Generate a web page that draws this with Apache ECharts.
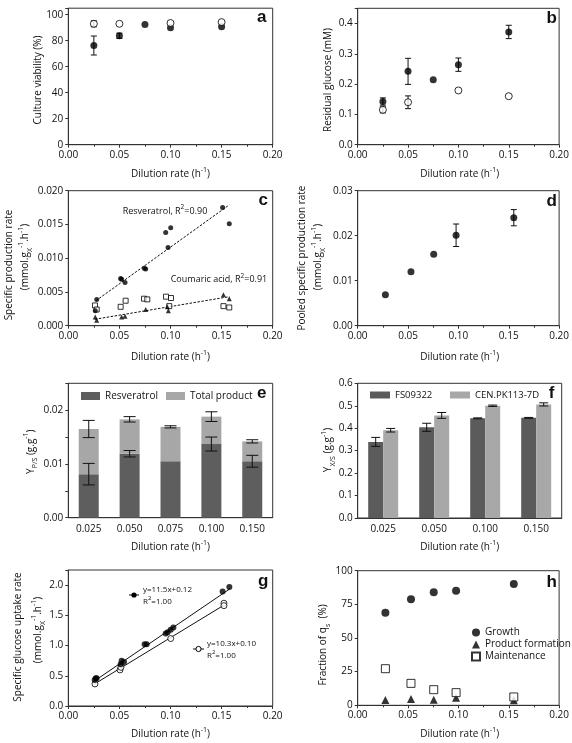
<!DOCTYPE html>
<html><head><meta charset="utf-8">
<script src="https://cdn.jsdelivr.net/npm/echarts@6/dist/echarts.min.js"></script>
<style>html,body{margin:0;padding:0;background:#fff}#c{width:572px;height:743px}</style>
</head><body><div id="c"></div>
<script>
// ---------- DATA ----------
// Panel a: culture viability (%)
const aFilledD = [0.025, 0.05, 0.075, 0.1, 0.15];
const aFilledV = [76.3, 83.8, 92.5, 90.0, 90.7];
const aFilledE = [7.3, 2.0, 0, 0, 0];
const aOpenD = [0.025, 0.05, 0.1, 0.15];
const aOpenV = [93.0, 93.0, 93.6, 94.3];
const aOpenE = [2.3, 0, 0, 0];
// Panel b: residual glucose (mM)
const bFilledD = [0.025, 0.05, 0.075, 0.1, 0.15];
const bFilledV = [0.1425, 0.242, 0.214, 0.264, 0.372];
const bFilledE = [0.012, 0.043, 0, 0.022, 0.022];
const bOpenD = [0.025, 0.05, 0.1, 0.15];
const bOpenV = [0.115, 0.140, 0.179, 0.160];
const bOpenE = [0.010, 0.021, 0, 0];
// Panel c: specific production rates
const cResvD = [0.0264, 0.0278, 0.0512, 0.0522, 0.0555, 0.0744, 0.0757, 0.0953, 0.0976, 0.1002, 0.151, 0.1575];
const cResvV = [0.0022, 0.0039, 0.0070, 0.0069, 0.0064, 0.0085, 0.0084, 0.0138, 0.0116, 0.0145, 0.0175, 0.0151];
const cCouD = [0.0264, 0.0278, 0.0522, 0.0555, 0.0757, 0.0969, 0.0979, 0.1518, 0.1575];
const cCouV = [0.0013, 0.0008, 0.0013, 0.0014, 0.0024, 0.0028, 0.0022, 0.0046, 0.0040];
const cSqD = [0.0261, 0.0278, 0.0512, 0.0561, 0.0741, 0.0773, 0.0956, 0.0988, 0.1005, 0.1518, 0.1575];
const cSqV = [0.0030, 0.0024, 0.0028, 0.0037, 0.0040, 0.0039, 0.0043, 0.0029, 0.0041, 0.0029, 0.0027];
const cResvFitD = [0.027, 0.1575];
const cResvFitV = [0.0037, 0.0179];
const cCouFitD = [0.026, 0.1575];
const cCouFitV = [0.00095, 0.0043];
// Panel d: pooled specific production rate
const dD = [0.0275, 0.0529, 0.0755, 0.0977, 0.155];
const dV = [0.0069, 0.0120, 0.0159, 0.0201, 0.0240];
const dE = [0, 0, 0, 0.0025, 0.0018];
// Panel e: product yields
const eCats = ['0.025', '0.050', '0.075', '0.100', '0.150'];
const eResv = [0.0081, 0.0119, 0.0105, 0.0137, 0.0105];
const eResvE = [0.0020, 0.0006, 0, 0.0013, 0.0011];
const eTotal = [0.0165, 0.0183, 0.0169, 0.0188, 0.0142];
const eTotalE = [0.0016, 0.0005, 0.0002, 0.0009, 0.0003];
// Panel f: biomass yields
const fCats = ['0.025', '0.050', '0.100', '0.150'];
const fFS = [0.339, 0.404, 0.444, 0.446];
const fFSE = [0.020, 0.018, 0.002, 0.002];
const fCEN = [0.391, 0.457, 0.500, 0.506];
const fCENE = [0.008, 0.013, 0.003, 0.007];
// Panel g: specific glucose uptake rate
const gFilledD = [0.0258, 0.0268, 0.0277, 0.0512, 0.0522, 0.0545, 0.0747, 0.0767, 0.0953, 0.0972, 0.1002, 0.1028, 0.151, 0.1576];
const gFilledV = [0.43, 0.459, 0.46, 0.69, 0.75, 0.73, 1.02, 1.02, 1.20, 1.22, 1.26, 1.30, 1.895, 1.967];
const gOpenD = [0.0261, 0.0506, 0.0515, 0.1002, 0.1523, 0.1523];
const gOpenV = [0.365, 0.597, 0.64, 1.116, 1.70, 1.66];
const gFilledFitD = [0.025, 0.158];
const gFilledFitV = [0.4075, 1.937];
const gOpenFitD = [0.025, 0.152];
const gOpenFitV = [0.3575, 1.666];
// Panel h: fraction of qs (%)
const hD = [0.0275, 0.0529, 0.0755, 0.0977, 0.155];
const hGrowth = [68.8, 78.7, 83.9, 85.1, 90.1];
const hProduct = [4.0, 4.7, 4.2, 5.7, 3.7];
const hMaint = [27.2, 16.3, 11.6, 9.4, 6.2];

// ---------- helpers ----------
const FONT = "'Open Sans', sans-serif";
const AX = '#333';
const TXT = '#111';
const zip = (xs, ys) => xs.map((x, i) => [x, ys[i]]);
const zip3 = (xs, ys, es) => xs.map((x, i) => [x, ys[i], es[i]]);

const grids = [
  {left: 68.3, top: 8.2, width: 204.4, height: 136.5},
  {left: 357.7, top: 8.3, width: 204, height: 136.4},
  {left: 68.3, top: 190.7, width: 204.4, height: 135},
  {left: 357.7, top: 190.7, width: 204, height: 135},
  {left: 68.3, top: 383.3, width: 204.4, height: 134.4},
  {left: 357.7, top: 383.3, width: 204, height: 134.7},
  {left: 68.3, top: 570, width: 204.4, height: 136},
  {left: 357.7, top: 570.7, width: 204, height: 134.6}
].map(g => Object.assign(g, {show: true, borderColor: AX, borderWidth: 1, containLabel: false}));

function baseAxis(i) {
  return {
    gridIndex: i,
    axisLine: {show: true, lineStyle: {color: AX, width: 1}},
    axisTick: {show: true, inside: false, length: 3, lineStyle: {color: AX}},
    splitLine: {show: false},
    axisLabel: {color: TXT, fontSize: 10, fontFamily: FONT, margin: 5}
  };
}
function dilAxis(i) {
  return Object.assign(baseAxis(i), {
    type: 'value', min: 0, max: 0.2, interval: 0.05,
    minorTick: {show: true, splitNumber: 2, length: 2, lineStyle: {color: AX}},
    axisLabel: {color: TXT, fontSize: 10, fontFamily: FONT, margin: 5, formatter: v => v.toFixed(2)}
  });
}
function catAxis(i, cats) {
  return Object.assign(baseAxis(i), {
    type: 'category', data: cats,
    axisTick: {show: false},
    axisLabel: {color: TXT, fontSize: 10, fontFamily: FONT, margin: 6}
  });
}
function yAxis(i, min, max, interval, fmt) {
  return Object.assign(baseAxis(i), {
    type: 'value', min: min, max: max, interval: interval,
    axisLabel: {color: TXT, fontSize: 10, fontFamily: FONT, margin: 5, formatter: fmt}
  });
}
function errRender(offset, cap) {
  return function (params, api) {
    const x = api.value(0), y = api.value(1), e = api.value(2);
    if (!e) return {type: 'group', children: []};
    const lo = api.coord([x, y - e]), hi = api.coord([x, y + e]);
    const cx = lo[0] + offset;
    const st = {stroke: '#111', lineWidth: 1};
    return {type: 'group', children: [
      {type: 'line', shape: {x1: cx, y1: lo[1], x2: cx, y2: hi[1]}, style: st},
      {type: 'line', shape: {x1: cx - cap, y1: lo[1], x2: cx + cap, y2: lo[1]}, style: st},
      {type: 'line', shape: {x1: cx - cap, y1: hi[1], x2: cx + cap, y2: hi[1]}, style: st}
    ]};
  };
}
function errSeries(i, data, offset, cap) {
  return {type: 'custom', xAxisIndex: i, yAxisIndex: i, data: data, encode: {x: 0, y: 1},
    renderItem: errRender(offset, cap), z: 3, silent: true};
}
const FILLED = {color: '#000'};
const OPEN = {color: '#fff', borderColor: '#000', borderWidth: 1};
function scatter(i, name, data, symbol, size, style) {
  return {type: 'scatter', name: name, xAxisIndex: i, yAxisIndex: i, data: data,
    symbol: symbol, symbolSize: size, itemStyle: style, z: 4, silent: true};
}
function fitLine(i, data, dashed) {
  return {type: 'line', xAxisIndex: i, yAxisIndex: i, data: data, symbol: 'none', silent: true,
    lineStyle: {color: '#111', width: 1, type: dashed ? [2.5, 1.5] : 'solid'}, z: 2};
}

// ---------- series ----------
const series = [
  // a
  errSeries(0, zip3(aFilledD, aFilledV, aFilledE), 0, 3),
  errSeries(0, zip3(aOpenD, aOpenV, aOpenE), 0, 3),
  scatter(0, 'a-filled', zip(aFilledD, aFilledV), 'circle', 7, FILLED),
  scatter(0, 'a-open', zip(aOpenD, aOpenV), 'circle', 7, OPEN),
  // b
  errSeries(1, zip3(bFilledD, bFilledV, bFilledE), 0, 3),
  errSeries(1, zip3(bOpenD, bOpenV, bOpenE), 0, 3),
  scatter(1, 'b-filled', zip(bFilledD, bFilledV), 'circle', 7, FILLED),
  scatter(1, 'b-open', zip(bOpenD, bOpenV), 'circle', 7, OPEN),
  // c
  fitLine(2, zip(cResvFitD, cResvFitV), true),
  fitLine(2, zip(cCouFitD, cCouFitV), true),
  scatter(2, 'c-sq', zip(cSqD, cSqV), 'rect', 5, OPEN),
  scatter(2, 'c-resv', zip(cResvD, cResvV), 'circle', 5, FILLED),
  scatter(2, 'c-cou', zip(cCouD, cCouV), 'triangle', 5, FILLED),
  // d
  errSeries(3, zip3(dD, dV, dE), 0, 3),
  scatter(3, 'd-pool', zip(dD, dV), 'circle', 7, FILLED),
  // e
  {type: 'bar', name: 'Resveratrol', xAxisIndex: 4, yAxisIndex: 4, stack: 'e', barWidth: 20,
    data: eResv, itemStyle: {color: '#5e5e5e'}, silent: true},
  {type: 'bar', name: 'Total product', xAxisIndex: 4, yAxisIndex: 4, stack: 'e', barWidth: 20,
    data: eTotal.map((t, k) => t - eResv[k]), itemStyle: {color: '#a7a7a7'}, silent: true},
  errSeries(4, eResv.map((v, k) => [k, v, eResvE[k]]), 0, 6),
  errSeries(4, eTotal.map((v, k) => [k, v, eTotalE[k]]), 0, 6),
  // f
  {type: 'bar', name: 'FS09322', xAxisIndex: 5, yAxisIndex: 5, barWidth: 15, barGap: '0%',
    data: fFS, itemStyle: {color: '#5b5b5b'}, silent: true},
  {type: 'bar', name: 'CEN.PK113-7D', xAxisIndex: 5, yAxisIndex: 5, barWidth: 15, barGap: '0%',
    data: fCEN, itemStyle: {color: '#a8a8a8'}, silent: true},
  errSeries(5, fFS.map((v, k) => [k, v, fFSE[k]]), -7.5, 4.5),
  errSeries(5, fCEN.map((v, k) => [k, v, fCENE[k]]), 7.5, 4.5),
  // g
  fitLine(6, zip(gFilledFitD, gFilledFitV), false),
  fitLine(6, zip(gOpenFitD, gOpenFitV), false),
  scatter(6, 'g-open', zip(gOpenD, gOpenV), 'circle', 6, OPEN),
  scatter(6, 'g-filled', zip(gFilledD, gFilledV), 'circle', 6, FILLED),
  // h
  scatter(7, 'Growth', zip(hD, hGrowth), 'circle', 8, FILLED),
  scatter(7, 'Product formation', zip(hD, hProduct), 'triangle', 8, FILLED),
  scatter(7, 'Maintenance', zip(hD, hMaint), 'rect', 8, OPEN)
];

// ---------- axes ----------
const xAxes = [dilAxis(0), dilAxis(1), dilAxis(2), dilAxis(3), catAxis(4, eCats), catAxis(5, fCats), dilAxis(6), dilAxis(7)];
const yAxes = [
  yAxis(0, 0, 105, 20, v => v > 100.5 ? '' : String(v)),
  yAxis(1, 0, 0.45, 0.1, v => v > 0.41 ? '' : v.toFixed(1)),
  yAxis(2, 0, 0.02, 0.005, v => v.toFixed(3)),
  yAxis(3, 0, 0.03, 0.01, v => v.toFixed(2)),
  yAxis(4, 0, 0.025, 0.005, v => { const k = Math.round(v * 1000); return (k % 10 === 0 && k <= 20) ? v.toFixed(2) : ''; }),
  yAxis(5, 0, 0.6, 0.1, v => v.toFixed(1)),
  yAxis(6, 0, 2.25, 0.5, v => v > 2.01 ? '' : v.toFixed(1)),
  yAxis(7, 0, 100, 25, v => String(v))
];

// ---------- text / annotations ----------
const RICH = {
  a: {fontSize: 10, fontFamily: FONT, lineHeight: 16, fill: TXT},
  s: {fontSize: 7, fontFamily: FONT, lineHeight: 8, verticalAlign: 'bottom', fill: TXT},
  p: {fontSize: 7, fontFamily: FONT, lineHeight: 8, verticalAlign: 'top', fill: TXT}
};
const RICH9 = {
  a: {fontSize: 9, fontFamily: FONT, lineHeight: 14, fill: TXT},
  p: {fontSize: 6.5, fontFamily: FONT, lineHeight: 7, verticalAlign: 'top', fill: TXT}
};
const RICH8 = {
  b: {fontSize: 8, fontFamily: FONT, lineHeight: 12, fill: TXT},
  c: {fontSize: 6, fontFamily: FONT, lineHeight: 6, verticalAlign: 'top', fill: TXT}
};
function txt(x, y, text, opts) {
  opts = opts || {};
  return {type: 'text', x: x, y: y, rotation: opts.rot ? Math.PI / 2 : 0, z: 10, silent: true,
    style: {text: text, fill: TXT, font: (opts.font || ('10px ' + FONT)),
      align: opts.align || 'center', verticalAlign: 'middle', rich: opts.rich}};
}
const xTitle = '{a|Dilution rate (h}{p|-1}{a|)}';
const unitRich = '{a|(mmol.g}{s|X}{p|-1}{a|.h}{p|-1}{a|)}';
const LETTER = 'bold 17px "Liberation Sans", Arial, sans-serif';
const graphic = [
  // x titles
  txt(170.5, 174, xTitle, {rich: RICH}), txt(459.7, 174, xTitle, {rich: RICH}),
  txt(170.5, 357, xTitle, {rich: RICH}), txt(459.7, 357, xTitle, {rich: RICH}),
  txt(170.5, 547.5, xTitle, {rich: RICH}), txt(459.7, 547.5, xTitle, {rich: RICH}),
  txt(170.5, 734, xTitle, {rich: RICH}), txt(459.7, 734, xTitle, {rich: RICH}),
  // y titles
  txt(38.3, 80, '{a|Culture viability (%)}', {rot: true, rich: RICH}),
  txt(327.7, 80, '{a|Residual glucose (mM)}', {rot: true, rich: RICH}),
  txt(9.3, 265, '{a|Specific production rate}', {rot: true, rich: RICH}),
  txt(25, 257, unitRich, {rot: true, rich: RICH}),
  txt(301.7, 258, '{a|Pooled specific production rate}', {rot: true, rich: RICH}),
  txt(318.3, 257, unitRich, {rot: true, rich: RICH}),
  txt(30.7, 451.7, '{a|Y}{s|P/S}{a| (g.g}{p|-1}{a|)}', {rot: true, rich: RICH}),
  txt(328.3, 450, '{a|Y}{s|X/S}{a| (g.g}{p|-1}{a|)}', {rot: true, rich: RICH}),
  txt(18.3, 637, '{a|Specific glucose uptake rate}', {rot: true, rich: RICH}),
  txt(38.3, 630, unitRich, {rot: true, rich: RICH}),
  txt(323.3, 645, '{a|Fraction of q}{s|s}{a|  (%)}', {rot: true, rich: RICH}),
  // panel letters
  txt(261.7, 17.3, 'a', {font: LETTER}),
  txt(551.7, 18.3, 'b', {font: LETTER}),
  txt(263.3, 200, 'c', {font: LETTER}),
  txt(551.7, 201, 'd', {font: LETTER}),
  txt(261.7, 393.3, 'e', {font: LETTER}),
  txt(551.7, 393.3, 'f', {font: LETTER}),
  txt(263.3, 581.7, 'g', {font: LETTER}),
  txt(551.7, 582.3, 'h', {font: LETTER}),
  // panel c annotations
  txt(122.7, 211, '{a|Resveratrol, R}{p|2}{a|=0.90}', {align: 'left', rich: RICH9}),
  txt(170.7, 279.3, '{a|Coumaric acid, R}{p|2}{a|=0.91}', {align: 'left', rich: RICH9}),
  // panel g annotations
  {type: 'line', shape: {x1: 129, y1: 595, x2: 139, y2: 595}, style: {stroke: '#111', lineWidth: 1}, z: 10},
  {type: 'circle', shape: {cx: 134, cy: 595, r: 2.6}, style: {fill: '#000'}, z: 11},
  txt(143, 589.5, 'y=11.5x+0.12', {align: 'left', font: '8px ' + FONT}),
  txt(143, 601.5, '{b|R}{c|2}{b|=1.00}', {align: 'left', rich: RICH8}),
  {type: 'line', shape: {x1: 193, y1: 649, x2: 204, y2: 649}, style: {stroke: '#111', lineWidth: 1}, z: 10},
  {type: 'circle', shape: {cx: 198.5, cy: 649, r: 2.6}, style: {fill: '#fff', stroke: '#000', lineWidth: 1}, z: 11},
  txt(207, 643.5, 'y=10.3x+0.10', {align: 'left', font: '8px ' + FONT}),
  txt(207, 655.5, '{b|R}{c|2}{b|=1.00}', {align: 'left', rich: RICH8})
];

const legendText = {fontSize: 10, fontFamily: FONT, color: TXT};
const legends = [
  {data: ['Resveratrol'], left: 76, top: 386, itemWidth: 19, itemHeight: 8, icon: 'rect', textStyle: legendText, selectedMode: false},
  {data: ['Total product'], left: 161, top: 386, itemWidth: 19, itemHeight: 8, icon: 'rect', textStyle: legendText, selectedMode: false},
  {data: ['FS09322'], left: 365, top: 385, itemWidth: 20, itemHeight: 7, icon: 'rect', textStyle: Object.assign({}, legendText, {fontSize: 9.5}), selectedMode: false},
  {data: ['CEN.PK113-7D'], left: 445, top: 385, itemWidth: 20, itemHeight: 7, icon: 'rect', textStyle: Object.assign({}, legendText, {fontSize: 9.5}), selectedMode: false},
  {data: ['Growth', 'Product formation', 'Maintenance'], orient: 'vertical', left: 466, top: 622,
    itemWidth: 8, itemHeight: 8, itemGap: 1, textStyle: Object.assign({}, legendText, {lineHeight: 11}), selectedMode: false}
];

const chart = echarts.init(document.getElementById('c'), null, {renderer: 'canvas'});
chart.setOption({
  animation: false,
  backgroundColor: '#fff',
  textStyle: {fontFamily: FONT},
  grid: grids,
  xAxis: xAxes,
  yAxis: yAxes,
  legend: legends,
  series: series,
  graphic: graphic
});
</script>
</body></html>
